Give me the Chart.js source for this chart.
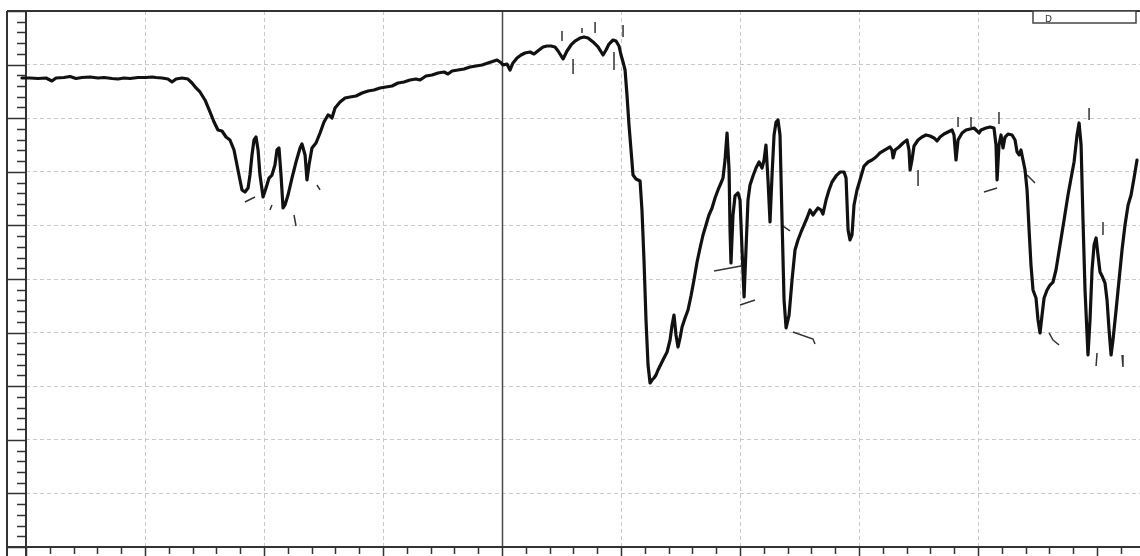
<!DOCTYPE html>
<html>
<head>
<meta charset="utf-8">
<script src="https://cdn.jsdelivr.net/npm/chart.js@4.4.1/dist/chart.umd.min.js"></script>
<style>
  html, body { margin: 0; padding: 0; background: #fff; overflow: hidden; }
</style>
</head>
<body>
<canvas id="spectrum" width="1140" height="556"></canvas>
<script>
// x in major grid divisions from the left axis, y in % transmittance
const waveX = [
  -0.076, -0.034, 0.034, 0.101, 0.168, 0.218, 0.252, 0.319, 0.370, 0.420, 0.471, 0.538, 0.605, 0.655, 0.723, 0.773,
  0.824, 0.874, 0.941, 1.008, 1.059, 1.092, 1.143, 1.193, 1.227, 1.261, 1.311, 1.361, 1.395,
  1.429, 1.462, 1.504, 1.546, 1.580, 1.613, 1.647, 1.681, 1.714, 1.748, 1.773, 1.798, 1.815, 1.840, 1.866, 1.882,
  1.899, 1.916, 1.933, 1.950, 1.966, 1.992, 2.017, 2.042, 2.067, 2.092, 2.109, 2.126, 2.143, 2.160, 2.176, 2.202,
  2.235, 2.269, 2.303, 2.319, 2.345, 2.361, 2.378, 2.403, 2.437, 2.471, 2.504, 2.538, 2.555, 2.571, 2.597, 2.639,
  2.681, 2.723, 2.773, 2.824, 2.874, 2.924, 2.975, 3.025, 3.076, 3.126, 3.176, 3.227, 3.277, 3.311, 3.361, 3.412,
  3.462, 3.513, 3.546, 3.580, 3.630, 3.681, 3.731, 3.782, 3.832, 3.882, 3.933, 3.958, 3.983, 4.008, 4.042, 4.067,
  4.092, 4.126, 4.160, 4.193, 4.235, 4.269, 4.311, 4.345, 4.378, 4.412, 4.445, 4.471, 4.513, 4.546, 4.580, 4.613,
  4.655, 4.689, 4.723, 4.765, 4.807, 4.849, 4.874, 4.899, 4.933, 4.958, 4.983, 5.000, 5.017, 5.034, 5.050, 5.067,
  5.084, 5.101, 5.126, 5.160, 5.176, 5.193, 5.210, 5.227, 5.244, 5.261, 5.277, 5.294, 5.311, 5.336, 5.361, 5.387,
  5.412, 5.429, 5.445, 5.462, 5.479, 5.496, 5.513, 5.538, 5.563, 5.588, 5.613, 5.639, 5.664, 5.689, 5.714, 5.739,
  5.765, 5.790, 5.815, 5.840, 5.857, 5.874, 5.891, 5.908, 5.916, 5.924, 5.941, 5.958, 5.983, 6.000, 6.017, 6.034,
  6.050, 6.067, 6.084, 6.109, 6.134, 6.160, 6.185, 6.202, 6.218, 6.235, 6.252, 6.269, 6.286, 6.303, 6.319, 6.336,
  6.353, 6.370, 6.387, 6.412, 6.437, 6.462, 6.487, 6.513, 6.538, 6.563, 6.588, 6.613, 6.630, 6.655, 6.681, 6.697,
  6.723, 6.748, 6.773, 6.807, 6.840, 6.874, 6.891, 6.908, 6.924, 6.941, 6.958, 6.983, 7.008, 7.042, 7.076, 7.109,
  7.143, 7.176, 7.218, 7.261, 7.277, 7.286, 7.303, 7.336, 7.370, 7.403, 7.420, 7.429, 7.445, 7.462, 7.496, 7.529,
  7.563, 7.597, 7.630, 7.655, 7.681, 7.714, 7.748, 7.782, 7.798, 7.815, 7.832, 7.866, 7.899, 7.933, 7.966, 7.992,
  8.008, 8.025, 8.067, 8.101, 8.134, 8.151, 8.160, 8.176, 8.193, 8.210, 8.227, 8.252, 8.286, 8.311, 8.328, 8.345,
  8.361, 8.378, 8.395, 8.412, 8.429, 8.445, 8.462, 8.487, 8.504, 8.521, 8.538, 8.555, 8.580, 8.605, 8.630, 8.655,
  8.689, 8.723, 8.756, 8.782, 8.807, 8.832, 8.849, 8.866, 8.882, 8.899, 8.924, 8.941, 8.958, 8.975, 8.992, 9.008,
  9.025, 9.042, 9.067, 9.084, 9.101, 9.118, 9.134, 9.160, 9.185, 9.210, 9.235, 9.261, 9.286, 9.311, 9.336
];
const transY = [
  87.13, 87.50, 87.50, 87.41, 87.50, 86.94, 87.50, 87.59, 87.78, 87.41, 87.59, 87.69, 87.50, 87.59, 87.41, 87.31,
  87.50, 87.41, 87.59, 87.59, 87.69, 87.59, 87.50, 87.31, 86.76, 87.31, 87.50, 87.31, 86.57,
  85.64, 84.89, 83.40, 81.16, 79.29, 77.80, 77.61, 76.49, 75.93, 74.07, 71.27, 68.47, 66.61, 66.23, 66.98, 69.40,
  73.14, 75.93, 76.49, 74.07, 69.40, 65.30, 66.98, 68.84, 69.40, 71.27, 74.07, 74.44, 69.40, 63.25, 63.81, 65.67,
  68.84, 71.83, 74.44, 75.19, 73.14, 68.47, 71.27, 74.44, 75.37, 77.24, 79.29, 80.60, 80.41, 80.04, 81.90, 83.02,
  83.77, 83.96, 84.14, 84.70, 85.08, 85.26, 85.64, 85.82, 86.01, 86.57, 86.76, 87.13, 87.31, 87.13, 87.87, 88.06,
  88.43, 88.62, 88.25, 88.81, 88.99, 89.18, 89.55, 89.74, 89.93, 90.30, 90.67, 90.86, 90.49, 89.93, 90.11, 88.99,
  90.30, 91.23, 91.79, 92.17, 92.35, 91.98, 92.73, 93.29, 93.47, 93.47, 93.29, 92.54, 91.05, 92.54, 93.66, 94.40,
  94.96, 95.15, 94.96, 94.22, 93.29, 91.79, 92.73, 93.84, 94.59, 94.40, 93.47, 91.79, 90.49, 88.99, 84.33, 78.73,
  74.07, 69.40, 68.66, 68.29, 62.87, 53.55, 42.35, 33.96, 30.60, 31.16, 31.53, 32.09, 33.02, 34.14, 35.26, 36.38,
  38.62, 41.42, 43.28, 39.55, 37.31, 38.99, 41.05, 42.72, 44.22, 46.83, 49.81, 53.17, 55.78, 58.21, 60.08, 61.94,
  63.25, 65.11, 66.61, 67.91, 68.84, 72.20, 77.24, 70.34, 59.14, 52.99, 61.94, 65.49, 66.05, 64.74, 55.41, 46.64,
  55.41, 64.74, 67.54, 69.22, 70.71, 71.83, 70.71, 72.20, 75.00, 68.47, 60.64, 69.40, 76.87, 79.29, 79.67, 76.87,
  61.01, 46.08, 40.86, 43.28, 49.81, 55.41, 57.28, 58.77, 60.08, 61.38, 62.87, 61.94, 62.50, 63.25, 62.87, 62.13,
  64.74, 66.61, 68.10, 69.22, 69.96, 69.96, 68.84, 59.14, 57.28, 58.21, 63.81, 66.61, 68.47, 71.08, 71.83, 72.20,
  72.76, 73.51, 74.07, 74.63, 74.07, 72.58, 74.07, 74.63, 75.37, 75.93, 74.07, 70.34, 72.20, 74.81, 75.93, 76.49,
  76.87, 76.68, 76.31, 75.75, 76.49, 77.05, 77.43, 77.80, 76.87, 72.20, 75.93, 77.24, 77.80, 77.99, 78.17, 77.61,
  77.24, 77.80, 78.17, 78.36, 78.17, 75.00, 68.47, 75.00, 76.87, 74.44, 76.49, 77.05, 76.87, 75.93, 73.70, 73.14,
  74.07, 72.20, 70.34, 66.61, 59.14, 52.61, 47.95, 46.46, 42.35, 39.93, 43.28, 46.46, 47.95, 48.88, 49.44, 51.68,
  56.34, 61.01, 65.67, 68.84, 71.83, 76.87, 79.11, 75.00, 61.01, 47.95, 35.82, 42.35, 51.68, 56.34, 57.65, 54.48,
  51.31, 50.56, 49.25, 46.08, 40.49, 35.82, 38.62, 44.22, 49.81, 55.41, 60.08, 63.81, 65.67, 68.84, 72.20
];

// leftover peak marker strokes (labels themselves are blank), start/end of each stroke
const peakTickX = [
  [4.504, 4.504], [4.597, 4.597], [4.672, 4.672], [4.782, 4.782], [4.941, 4.941], [5.017, 5.017],
  [1.840, 1.924], [2.050, 2.067], [2.252, 2.269], [2.445, 2.471],
  [5.782, 6.008], [6.000, 6.126], [6.345, 6.420], [6.445, 6.613, 6.630],
  [7.496, 7.496], [7.832, 7.832], [7.941, 7.941], [8.176, 8.176], [8.050, 8.160], [8.412, 8.479],
  [8.597, 8.630, 8.681], [8.933, 8.933], [9.050, 9.050], [9.000, 8.992], [9.210, 9.218]
];
const peakTickY = [
  [96.27, 94.40], [91.05, 88.25], [96.83, 95.90], [97.95, 95.90], [92.35, 88.99], [97.39, 95.15],
  [64.37, 65.30], [62.87, 63.81], [61.94, 59.89], [67.54, 66.61],
  [51.49, 52.43], [45.15, 46.08], [60.08, 58.96], [40.11, 38.81, 37.87],
  [70.34, 67.35], [80.23, 78.36], [80.23, 78.36], [81.16, 78.92], [66.23, 66.98], [69.40, 67.91],
  [39.93, 38.62, 37.69], [81.90, 79.67], [60.64, 58.21], [36.19, 33.77], [35.82, 33.58]
];

const X_MAX = 9.361;
const Y_MAX = 100;

const spectrumPoints = waveX.map((x, i) => ({ x: x, y: transY[i] }));

const tickPoints = [];
peakTickX.forEach((xs, i) => {
    xs.forEach((x, j) => tickPoints.push({ x: x, y: peakTickY[i][j] }));
    tickPoints.push({ x: xs[xs.length - 1], y: null }); // break the stroke
});

// frame, axis ticks, the 2000 divider and the little box in the corner
const frame = {
    id: 'frame',
    beforeDatasetsDraw(chart) {
        const { ctx, chartArea: a, scales: { x, y } } = chart;
        const outer = a.left - 19;
        ctx.save();

        // divider at the scale change
        ctx.strokeStyle = '#4a4a4a';
        ctx.lineWidth = 1.5;
        ctx.beginPath();
        const mid = Math.round(x.getPixelForValue(4)) + 0.5;
        ctx.moveTo(mid, a.top);
        ctx.lineTo(mid, a.bottom);
        ctx.stroke();

        ctx.strokeStyle = '#333';
        ctx.lineWidth = 2;
        ctx.beginPath();
        ctx.moveTo(outer, a.top); ctx.lineTo(a.right, a.top);
        ctx.moveTo(outer, a.top); ctx.lineTo(outer, chart.height);
        ctx.moveTo(a.left, a.top); ctx.lineTo(a.left, chart.height);
        ctx.moveTo(outer, a.bottom); ctx.lineTo(a.right, a.bottom);
        ctx.stroke();

        ctx.lineWidth = 1.5;
        ctx.beginPath();
        for (let i = 0; i <= 50; i++) {
            const py = Math.round(y.getPixelForValue(i * 2)) + 0.5;
            ctx.moveTo(i % 5 === 0 ? outer : a.left - 9, py);
            ctx.lineTo(a.left, py);
        }
        for (let i = 0; i <= Math.floor(X_MAX * 5); i++) {
            const px = Math.round(x.getPixelForValue(i / 5)) + 0.5;
            ctx.moveTo(px, a.bottom);
            ctx.lineTo(px, a.bottom + (i % 5 === 0 ? 10 : 7));
        }
        ctx.stroke();

        // small box top right
        ctx.lineWidth = 1.5;
        ctx.strokeStyle = '#444';
        ctx.fillStyle = '#fff';
        ctx.fillRect(a.right - 107, a.top, 103, 12);
        ctx.strokeRect(a.right - 107, a.top, 103, 12);
        ctx.fillStyle = '#333';
        ctx.font = '9px "DejaVu Sans"';
        ctx.textBaseline = 'bottom';
        ctx.fillText('D', a.right - 95, a.top + 13);
        ctx.restore();
    }
};

new Chart(document.getElementById('spectrum'), {
    type: 'line',
    data: {
        datasets: [
            {
                data: spectrumPoints,
                borderColor: '#111',
                borderWidth: 3.2,
                borderJoinStyle: 'round',
                borderCapStyle: 'round',
                pointRadius: 0,
                tension: 0,
                clip: false
            },
            {
                data: tickPoints,
                borderColor: '#333',
                borderWidth: 1.5,
                pointRadius: 0,
                spanGaps: false
            }
        ]
    },
    options: {
        responsive: false,
        animation: false,
        events: [],
        layout: { padding: { left: 26, top: 11, right: 0, bottom: 9 } },
        plugins: { legend: { display: false }, tooltip: { enabled: false } },
        scales: {
            x: {
                type: 'linear',
                min: 0,
                max: X_MAX,
                ticks: { display: false, stepSize: 1 },
                grid: { color: '#c9c9c9', lineWidth: 1, drawTicks: false },
                border: { display: false, dash: [4, 3] }
            },
            y: {
                min: 0,
                max: Y_MAX,
                ticks: { display: false, stepSize: 10 },
                grid: { color: '#c9c9c9', lineWidth: 1, drawTicks: false },
                border: { display: false, dash: [4, 3] }
            }
        }
    },
    plugins: [frame]
});
</script>
</body>
</html>
